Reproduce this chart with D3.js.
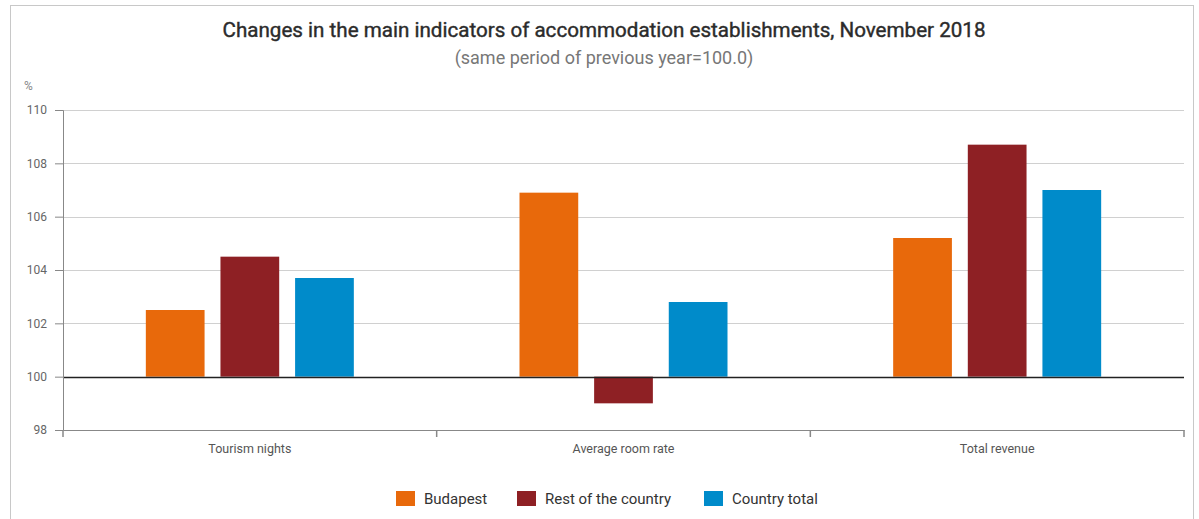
<!DOCTYPE html>
<html>
<head>
<meta charset="utf-8">
<script src="https://cdn.jsdelivr.net/npm/d3@7"></script>
<style>
  body { margin: 0; background: #fff; font-family: Roboto, "Noto Sans", sans-serif; }
  .grid line { stroke: #d0d0d0; }
</style>
</head>
<body>
<div id="chart"></div>
<script>
// Chart data
const categories = ["Tourism nights", "Average room rate", "Total revenue"];
const seriesNames = ["Budapest", "Rest of the country", "Country total"];
const budapest = [102.5, 106.9, 105.2];
const restOfCountry = [104.5, 99.0, 108.7];
const countryTotal = [103.7, 102.8, 107.0];
const yTicks = [98, 100, 102, 104, 106, 108, 110];
const colors = ["#e8690b", "#8e2024", "#008bca"];

const width = 1199,
    height = 519;
const margin = { top: 110, right: 15, bottom: 89, left: 63 };

const svg = d3.select("#chart")
    .append("svg")
    .attr("width", width)
    .attr("height", height);

// Frame
svg.append("rect")
    .attr("x", 10.5).attr("y", 5.5)
    .attr("width", 1183).attr("height", 530)
    .attr("fill", "none")
    .attr("stroke", "#c8c8c8");

// Titles (thin stroke to mimic a medium weight)
svg.append("text")
    .attr("x", 604).attr("y", 37)
    .attr("text-anchor", "middle")
    .attr("font-size", 20.6)
    .attr("fill", "#2b2b2b")
    .attr("stroke", "#2b2b2b")
    .attr("stroke-width", 0.4)
    .text("Changes in the main indicators of accommodation establishments, November 2018");

svg.append("text")
    .attr("x", 604).attr("y", 64)
    .attr("text-anchor", "middle")
    .attr("font-size", 18)
    .attr("fill", "#777")
    .text("(same period of previous year=100.0)");

svg.append("text")
    .attr("x", 24).attr("y", 90)
    .attr("font-size", 12)
    .attr("fill", "#888")
    .text("%");

// Scales
const x0 = d3.scaleBand()
    .domain(categories)
    .range([margin.left, width - margin.right])
    .paddingInner(0)
    .paddingOuter(0);

const x1 = d3.scaleBand()
    .domain(seriesNames)
    .range([0, 208])
    .paddingInner(0.213);

const y = d3.scaleLinear()
    .domain([98, 110])
    .range([height - margin.bottom, margin.top]);

// Grid lines
svg.append("g")
    .attr("class", "grid")
    .selectAll("line")
    .data(yTicks.filter(d => d > 100))
    .enter().append("line")
    .attr("x1", margin.left)
    .attr("x2", width - margin.right)
    .attr("y1", d => Math.round(y(d)) + 0.5)
    .attr("y2", d => Math.round(y(d)) + 0.5);

// Bars
const rows = categories.map((c, i) => ({
    category: c,
    values: [budapest[i], restOfCountry[i], countryTotal[i]]
}));

const groups = svg.selectAll(".group")
    .data(rows)
    .enter().append("g")
    .attr("class", "group")
    .attr("transform", d => `translate(${x0(d.category) + (x0.bandwidth() - 208) / 2},0)`);

groups.selectAll("rect")
    .data(d => d.values.map((v, j) => ({ name: seriesNames[j], value: v, idx: j })))
    .enter().append("rect")
    .attr("x", d => x1(d.name))
    .attr("width", x1.bandwidth())
    .attr("y", d => y(Math.max(100, d.value)))
    .attr("height", d => Math.abs(y(d.value) - y(100)))
    .attr("fill", d => colors[d.idx]);

// Baseline at 100
svg.append("line")
    .attr("x1", margin.left)
    .attr("x2", width - margin.right)
    .attr("y1", Math.round(y(100)) + 0.5)
    .attr("y2", Math.round(y(100)) + 0.5)
    .attr("stroke", "#222")
    .attr("stroke-width", 1.5);

// Y axis
const yAxis = svg.append("g")
    .attr("transform", `translate(${margin.left},0)`)
    .call(d3.axisLeft(y).tickValues(yTicks).tickSize(8).tickPadding(8));
yAxis.selectAll("text").attr("font-size", 12).attr("font-family", "Roboto, sans-serif").attr("fill", "#666");
yAxis.selectAll("line, path").attr("stroke", "#888");

// X axis
const xAxis = svg.append("g")
    .attr("transform", `translate(0,${height - margin.bottom})`)
    .call(d3.axisBottom(x0).tickSize(0).tickPadding(14));
xAxis.select(".domain").attr("stroke", "#888");
xAxis.selectAll("text").attr("font-size", 12.5).attr("font-family", "Roboto, sans-serif").attr("fill", "#555");

// Boundary ticks between categories
const bounds = [margin.left].concat(categories.map(c => x0(c) + x0.bandwidth()));
xAxis.selectAll(".bound")
    .data(bounds)
    .enter().append("line")
    .attr("class", "bound")
    .attr("x1", d => d).attr("x2", d => d)
    .attr("y1", 0).attr("y2", 7)
    .attr("stroke", "#888")
    .attr("stroke-width", 1.5);

// Legend
const legendX = [396, 517, 704];
const legend = svg.selectAll(".legend")
    .data(seriesNames)
    .enter().append("g")
    .attr("class", "legend")
    .attr("transform", (d, i) => `translate(${legendX[i]},491)`);

legend.append("rect")
    .attr("width", 19).attr("height", 15)
    .attr("fill", (d, i) => colors[i]);

legend.append("text")
    .attr("x", 28).attr("y", 13)
    .attr("font-size", 15)
    .attr("fill", "#333")
    .text(d => d);
</script>
</body>
</html>
